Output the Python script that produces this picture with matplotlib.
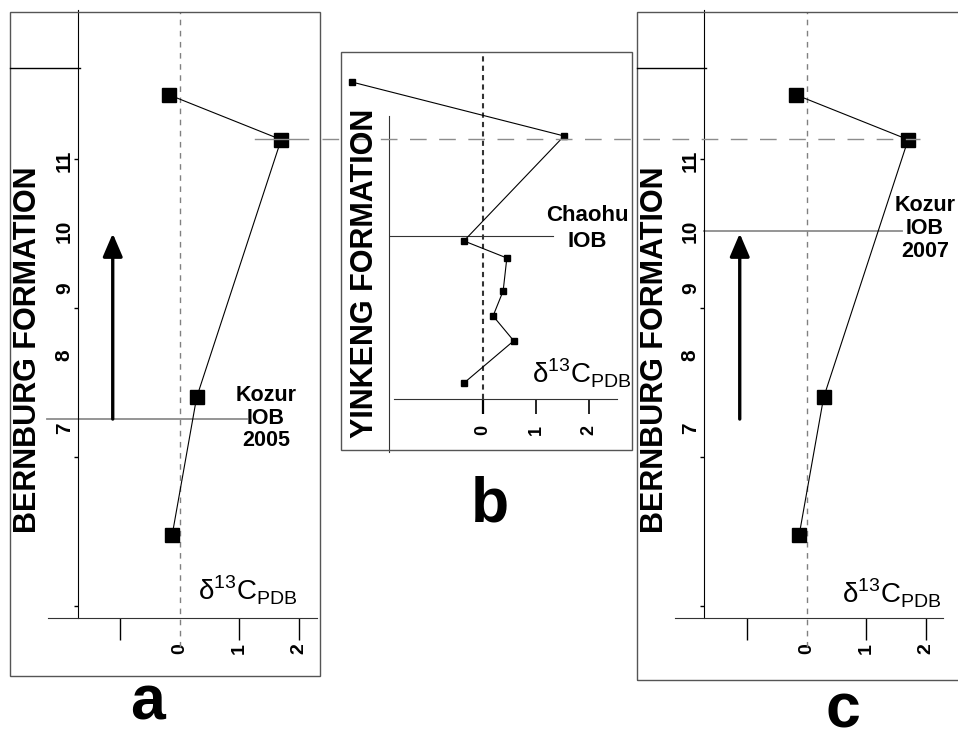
import matplotlib.pyplot as plt
from matplotlib.lines import Line2D
from matplotlib.patches import Rectangle

plt.rcParams['font.family'] = ['Liberation Sans', 'DejaVu Sans']
plt.rcParams['mathtext.fontset'] = 'custom'
plt.rcParams['mathtext.rm'] = 'Liberation Sans'

# Bernburg section (panels a and c), bottom to top; height in m
bern_d13c = [-0.13, 0.28, 1.70, -0.18]
bern_height = [0.48, 1.40, 3.13, 3.43]
bed_labels = ['7', '8', '9', '10', '11']
bed_height = [1.18, 1.67, 2.12, 2.54, 3.01]
kozur_2005 = 1.255
kozur_2007 = 2.517

# Chaohu section (panel b), bottom to top
chaohu_d13c = [-0.36, 0.58, 0.19, 0.38, 0.45, -0.36, 1.53, -2.47]
chaohu_height = [0.55, 0.80, 0.947, 1.095, 1.29, 1.391, 2.012, 2.331]
chaohu_iob = 1.42

x_ticks = [-1, 0, 1, 2]
x_ticklabels = ['', '0', '1', '2']

W, H = 958, 742
fig = plt.figure(figsize=(W / 100, H / 100), dpi=100)
DELTA = 'δ$^{\\mathregular{13}}$C$_{\\mathregular{PDB}}$'


def box(l, t, r, b):
    # pixel box (from top-left) -> figure fraction
    return [l / W, 1 - b / H, (r - l) / W, (b - t) / H]


def fig_line(xs, ys, **kw):
    fig.add_artist(Line2D([v / W for v in xs], [1 - v / H for v in ys], **kw))


def frame(l, t, r, b):
    fig.add_artist(Rectangle((l / W, 1 - b / H), (r - l) / W, (b - t) / H,
                             fill=False, ec='#555555', lw=1.0,
                             transform=fig.transFigure))


def bold_labels(labels):
    for lab in labels:
        lab.set_fontweight('bold')


def bernburg_panel(pos, xlim, spine_x, boundary, span, note, note_x, note_y, delta_xy):
    ax = fig.add_axes(pos)
    ax.patch.set_alpha(0)
    ax.set_xlim(*xlim)
    ax.set_ylim(-0.08, 4.0)
    ax.spines[['top', 'right']].set_visible(False)
    ax.spines['left'].set_position(('data', spine_x))
    ax.spines['left'].set_color('black')
    ax.spines['bottom'].set_color('#333333')

    ax.set_xticks(x_ticks, labels=x_ticklabels)
    ax.tick_params(axis='x', length=16, width=1, pad=2, labelsize=14, labelrotation=90)
    ticks = ax.xaxis.get_major_ticks()
    ticks[0].tick1line.set_color('#888888')
    ticks[1].tick1line.set_visible(False)
    ticks[2].tick1line.set_color('#888888')
    ticks[3].tick1line.set_color('black')
    bold_labels(ax.get_xticklabels())

    ax.set_yticks([0, 1, 2, 3], labels=[])
    ax.tick_params(axis='y', which='major', length=3, width=1)
    ax.set_yticks(bed_height, labels=bed_labels, minor=True)
    ax.tick_params(axis='y', which='minor', length=0, pad=3, labelsize=15, labelrotation=90)
    bold_labels(ax.get_yticklabels(minor=True))

    ax.axvline(0, ymin=-0.048, ymax=0.997, color='#808080', lw=1,
               ls=(0, (4, 4)), clip_on=False)
    ax.plot(span, [boundary, boundary], color='#8c8c8c', lw=1.3, clip_on=False)
    ax.annotate('', xy=(-1.13, 2.50), xytext=(-1.13, 1.255),
                arrowprops=dict(arrowstyle='-|>,head_length=0.7,head_width=0.3',
                                mutation_scale=20, lw=2.4, color='black',
                                shrinkA=0, shrinkB=0))
    ax.plot(bern_d13c, bern_height, '-', color='black', lw=0.8, clip_on=False)
    ax.plot(bern_d13c, bern_height, 's', color='black', ms=10, clip_on=False)

    for line, yy in zip(note, note_y):
        ax.text(note_x, yy, line, ha='center', va='center', fontsize=15.5,
                fontweight='bold')
    ax.text(*delta_xy, DELTA, ha='left', va='baseline', fontsize=20)
    return ax


# frames
frame(10, 12, 320, 676)
frame(341, 52, 632, 450)
frame(637, 12, 975, 680)

# panel a
ax_a = bernburg_panel(box(48, 10, 317, 618), (-2.218, 2.303), -1.714,
                      kozur_2005, (-2.235, 1.126), ['Kozur', 'IOB', '2005'],
                      1.445, [1.415, 1.262, 1.11], (0.30, 0.04))
# panel c
ax_c = bernburg_panel(box(675, 10, 943, 618), (-2.218, 2.286), -1.731,
                      kozur_2007, (-1.73, 1.60), ['Kozur', 'IOB', '2007'],
                      1.98, [2.685, 2.532, 2.38], (0.59, 0.02))

# panel b
ax_b = fig.add_axes(box(341, 52, 632, 452))
ax_b.patch.set_alpha(0)
ax_b.set_xlim(-2.679, 2.811)
ax_b.set_ylim(0.142, 2.509)
ax_b.spines[['top', 'right']].set_visible(False)
ax_b.spines['left'].set_position(('data', -1.774))
ax_b.spines['left'].set_bounds(0.142, 2.13)
ax_b.spines['left'].set_color('#333333')
ax_b.spines['bottom'].set_position(('data', 0.456))
ax_b.spines['bottom'].set_bounds(-1.679, 2.528)
ax_b.spines['bottom'].set_color('#333333')
ax_b.set_yticks([])
ax_b.set_xticks([0, 1, 2], labels=['0', '1', '2'])
ax_b.tick_params(axis='x', length=11, width=1.2, pad=8, labelsize=13, labelrotation=90)
bticks = ax_b.xaxis.get_major_ticks()
bticks[0].tick1line.set_color('black')
bticks[0].tick1line.set_markeredgewidth(1.6)
bticks[1].tick1line.set_color('#888888')
bticks[2].tick1line.set_color('#333333')
bold_labels(ax_b.get_xticklabels())

ax_b.axvline(0, ymin=0.1327, ymax=1, color='#333333', lw=1.5, ls=(0, (2.5, 2)))
ax_b.plot([-1.75, 1.32], [chaohu_iob, chaohu_iob], color='#333333', lw=0.8)
ax_b.plot(chaohu_d13c, chaohu_height, '-', color='black', lw=0.8, clip_on=False)
ax_b.plot(chaohu_d13c, chaohu_height, 's', color='black', ms=5, clip_on=False)
ax_b.text(1.96, 1.54, 'Chaohu', ha='center', va='center', fontsize=16, fontweight='bold')
ax_b.text(1.96, 1.39, 'IOB', ha='center', va='center', fontsize=16, fontweight='bold')
ax_b.text(0.92, 0.55, DELTA, ha='left', va='baseline', fontsize=20)

# formation names
fig.text(28 / W, 1 - 350 / H, 'BERNBURG FORMATION', rotation=90, ha='center',
         va='center', fontsize=22, fontweight='bold')
fig.text(655 / W, 1 - 350 / H, 'BERNBURG FORMATION', rotation=90, ha='center',
         va='center', fontsize=22, fontweight='bold')
fig.text(365 / W, 1 - 273 / H, 'YINKENG FORMATION', rotation=90, ha='center',
         va='center', fontsize=22, fontweight='bold')

# formation header lines
fig_line([10, 80], [68, 68], color='black', lw=1)
fig_line([637, 706], [68, 68], color='black', lw=1)

# correlation line through the d13C peak
fig_line([255, 308], [139, 139], color='#8c8c8c', lw=1.0)
fig_line([322, 920], [139, 139], color='#8c8c8c', lw=1.0, ls=(0, (12, 9)))

# panel letters
fig.text(147 / W, 1 - 720 / H, 'a', ha='center', va='baseline', fontsize=45, fontweight='bold')
fig.text(490 / W, 1 - 522 / H, 'b', ha='center', va='baseline', fontsize=45, fontweight='bold')
fig.text(843 / W, 1 - 741 / H, 'c', ha='center', va='bottom', fontsize=45, fontweight='bold')

fig.savefig('out.png', dpi=100)
